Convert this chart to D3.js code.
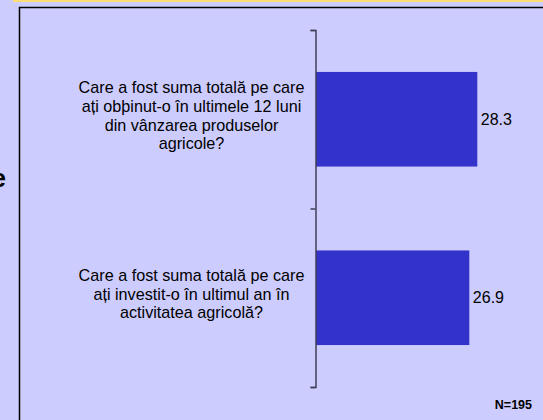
<!DOCTYPE html>
<html lang="en">
<head>
    <meta charset="UTF-8">
    <title>Suma totală</title>
    <script src="https://d3js.org/d3.v7.min.js"></script>
    <style>
        body {
            margin: 0;
            background-color: #ccccff;
            font-family: "Liberation Sans", Arial, sans-serif;
        }
        svg {
            display: block;
        }
    </style>
</head>
<body>

<svg width="543" height="420"></svg>

<script>
    // data
    const categories = ["venituri", "investitii"];
    const labelLines = [
        ["Care a fost suma totală pe care", "ați obþinut-o în ultimele 12 luni", "din vânzarea produselor", "agricole?"],
        ["Care a fost suma totală pe care", "ați investit-o în ultimul an în", "activitatea agricolă?"]
    ];
    const values = [28.3, 26.9];
    const note = "N=195";

    const svgWidth = 543;
    const svgHeight = 420;

    const svg = d3.select("svg")
        .attr("width", svgWidth)
        .attr("height", svgHeight);

    // background + slide bits
    svg.append("rect")
        .attr("width", svgWidth)
        .attr("height", svgHeight)
        .attr("fill", "#ccccff");

    svg.append("rect")
        .attr("x", 13).attr("y", 0)
        .attr("width", svgWidth - 13).attr("height", 2)
        .attr("fill", "#ffdd77");

    // cut-off title letter on the left edge (the slide title runs off the picture)
    svg.append("text")
        .attr("x", -8.5).attr("y", 187)
        .attr("font-size", 26)
        .attr("font-weight", "bold")
        .attr("fill", "#000")
        .text("e");

    // panel border (only top & left visible)
    svg.append("path")
        .attr("d", `M19.5,${svgHeight} V7.5 H${svgWidth}`)
        .attr("fill", "none")
        .attr("stroke", "#000")
        .attr("stroke-width", 1.5);

    // scales
    const axisX = 316;
    const yTop = 30, yBottom = 387;

    const yScale = d3.scaleBand()
        .domain(categories)
        .range([yTop, yBottom])
        .paddingInner(0.47)
        .paddingOuter(0.235);

    const xScale = d3.scaleLinear()
        .domain([0, 40])
        .range([axisX, 544]);

    // bars
    svg.selectAll("rect.bar")
        .data(values)
        .enter()
        .append("rect")
        .attr("class", "bar")
        .attr("x", xScale(0))
        .attr("y", (d, i) => yScale(categories[i]))
        .attr("width", d => xScale(d) - xScale(0))
        .attr("height", yScale.bandwidth())
        .attr("fill", "#3333cc");

    // value labels
    svg.selectAll("text.val")
        .data(values)
        .enter()
        .append("text")
        .attr("class", "val")
        .attr("x", d => xScale(d) + 3.5)
        .attr("y", (d, i) => yScale(categories[i]) + yScale.bandwidth() / 2)
        .attr("dy", "0.35em")
        .attr("font-size", 16)
        .attr("fill", "#000")
        .text(d => d.toFixed(1));

    // axis with ticks at band boundaries
    const tickScale = d3.scaleLinear()
        .domain([0, categories.length])
        .range([yTop, yBottom]);

    const axis = svg.append("g")
        .attr("transform", `translate(${axisX - 0.5},0)`)
        .call(d3.axisLeft(tickScale)
            .ticks(categories.length)
            .tickSize(5)
            .tickSizeOuter(5)
            .tickFormat(""));
    axis.select(".domain").attr("stroke", "#404058").attr("stroke-width", 1.5);
    axis.selectAll(".tick line").attr("stroke", "#404058").attr("stroke-width", 1.5);

    // category labels (wrapped, centered)
    const lineH = 18.7;
    const labelX = 191.5;
    labelLines.forEach((lines, i) => {
        const cy = yScale(categories[i]) + yScale.bandwidth() / 2;
        const first = cy + 2 - (lines.length - 1) / 2 * lineH;
        const t = svg.append("text")
            .attr("text-anchor", "middle")
            .attr("font-size", 16.2)
            .attr("fill", "#000");
        lines.forEach((ln, j) => {
            t.append("tspan")
                .attr("x", labelX)
                .attr("y", first + j * lineH)
                .text(ln);
        });
    });

    // sample size note
    svg.append("text")
        .attr("x", 532)
        .attr("y", 409)
        .attr("text-anchor", "end")
        .attr("font-size", 12.5)
        .attr("font-weight", "bold")
        .attr("fill", "#000")
        .text(note);
</script>

</body>
</html>
